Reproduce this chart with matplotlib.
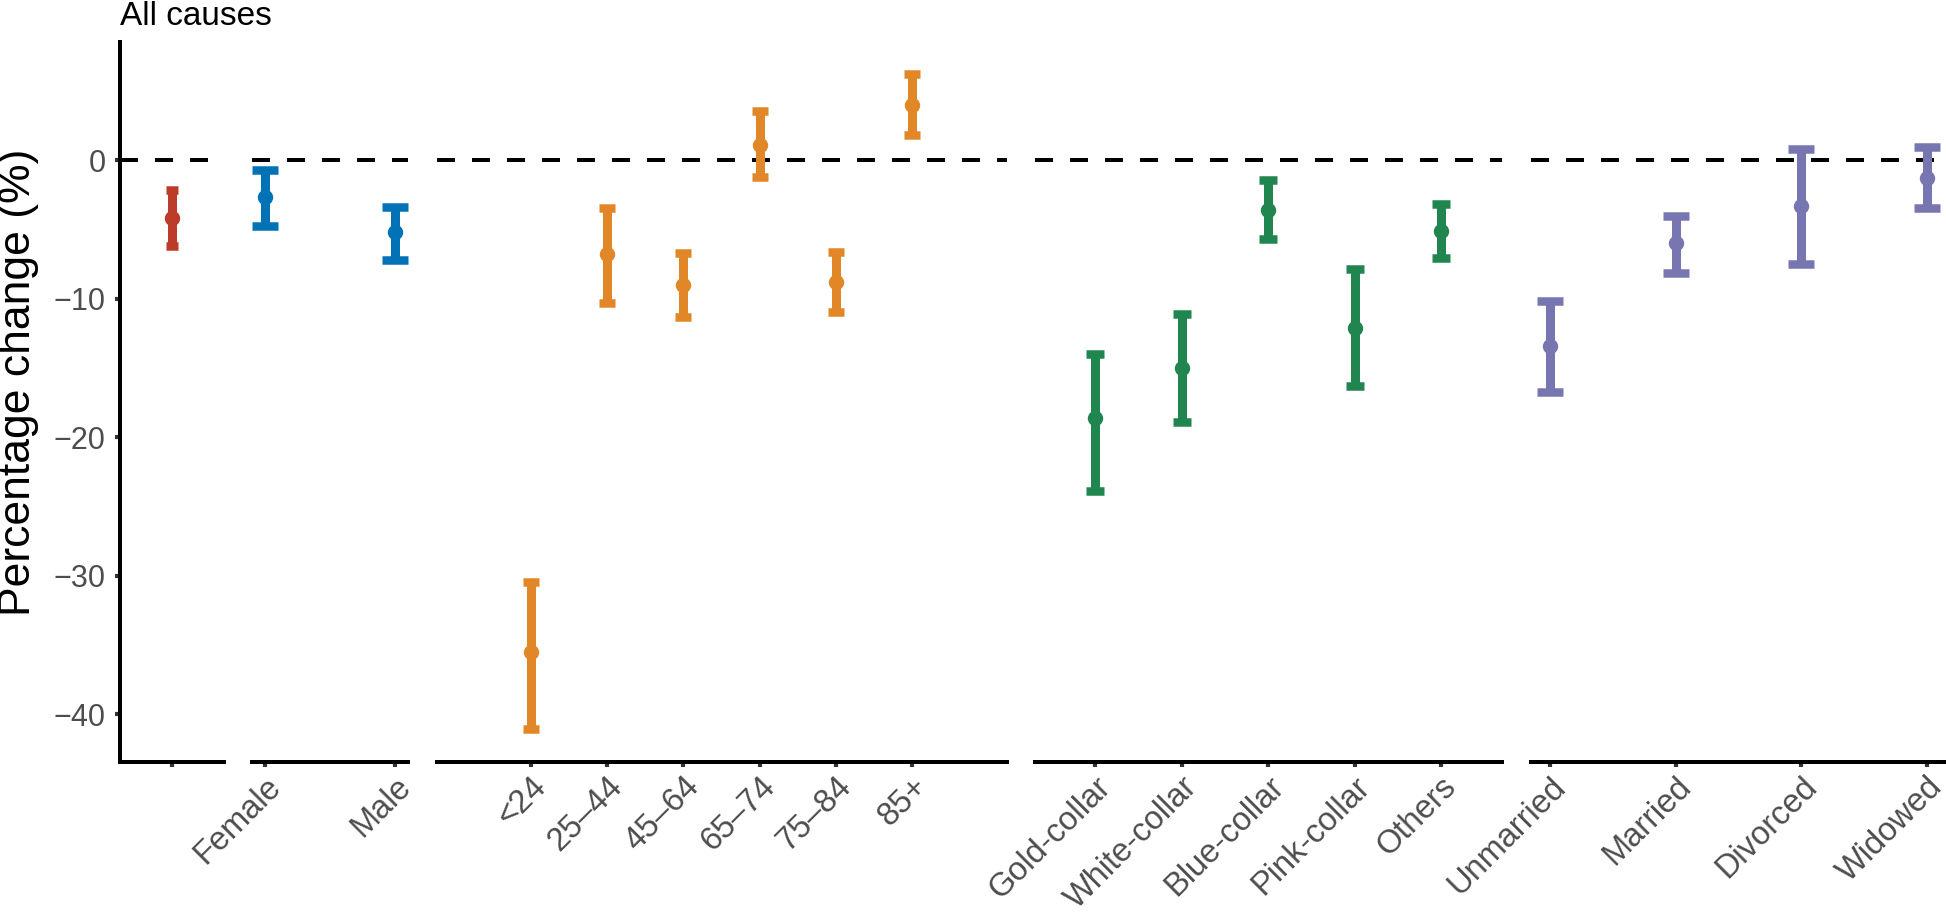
import matplotlib
matplotlib.use("Agg")
import matplotlib.pyplot as plt

plt.rcParams['font.family'] = ['Liberation Sans', 'DejaVu Sans']

# ---- data (percentage change, 95% CI) ----
overall_labels = [""]
overall_est = [-4.2]
overall_lo = [-6.2]
overall_hi = [-2.2]

sex_labels = ["Female", "Male"]
sex_est = [-2.7, -5.2]
sex_lo = [-4.75, -7.25]
sex_hi = [-0.75, -3.4]

age_labels = ["<24", "25–44", "45–64", "65–74", "75–84", "85+"]
age_est = [-35.55, -6.8, -9.05, 1.1, -8.8, 4.0]
age_lo = [-41.05, -10.35, -11.35, -1.25, -11.0, 1.8]
age_hi = [-30.45, -3.45, -6.75, 3.55, -6.65, 6.2]

occ_labels = ["Gold-collar", "White-collar", "Blue-collar", "Pink-collar", "Others"]
occ_est = [-18.65, -15.0, -3.6, -12.1, -5.1]
occ_lo = [-23.9, -18.9, -5.7, -16.35, -7.05]
occ_hi = [-14.0, -11.1, -1.45, -7.85, -3.15]

mar_labels = ["Unmarried", "Married", "Divorced", "Widowed"]
mar_est = [-13.45, -6.0, -3.3, -1.3]
mar_lo = [-16.75, -8.15, -7.5, -3.5]
mar_hi = [-10.15, -4.05, 0.8, 0.95]

colors = ["#BC3C29", "#0072B5", "#E18727", "#20854E", "#7876B1"]

panels = [
    (overall_labels, overall_est, overall_lo, overall_hi),
    (sex_labels, sex_est, sex_lo, sex_hi),
    (age_labels, age_est, age_lo, age_hi),
    (occ_labels, occ_est, occ_lo, occ_hi),
    (mar_labels, mar_est, mar_lo, mar_hi),
]

# ---- layout (pixels) ----
W, H = 1946, 913
dpi = 100
px = 72.0 / dpi  # points per pixel
panel_px = [(120, 224), (252, 408), (437, 1007), (1035, 1502), (1531, 1946)]
xlims = [(-0.6, 0.6), (-0.1, 1.1), (-1.234, 6.247), (-0.694, 4.705), (-0.151, 3.154)]
cap_px = [12, 27, 16, 18, 26]
top_px, bot_px = 42, 762
ylim = (-(bot_px - 160) / 13.85, (160 - top_px) / 13.85)

fig = plt.figure(figsize=(W / dpi, H / dpi), dpi=dpi)

for i, (labels, est, lo, hi) in enumerate(panels):
    x0, x1 = panel_px[i]
    ax = fig.add_axes([x0 / W, 1 - bot_px / H, (x1 - x0) / W, (bot_px - top_px) / H])
    xs = list(range(len(labels)))
    yerr = [[e - l for e, l in zip(est, lo)], [h - e for e, h in zip(est, hi)]]
    ax.axhline(0, color="black", lw=4 * px, linestyle=(0, (18 / 4, 17 / 4)), zorder=1)
    ax.errorbar(xs, est, yerr=yerr, fmt="o", color=colors[i], ms=14 * px,
                elinewidth=9 * px, capsize=cap_px[i] / 2 * px, capthick=8.5 * px, zorder=3)
    ax.set_xlim(*xlims[i])
    ax.set_ylim(*ylim)
    ax.set_xticks(xs)
    ax.set_xticklabels(labels)
    for s in ["top", "right"]:
        ax.spines[s].set_visible(False)
    ax.spines["bottom"].set_linewidth(4 * px)
    ax.tick_params(axis="x", length=3.5, width=3, color="#333333", labelsize=23.5,
                   labelcolor="#4D4D4D", pad=3)
    plt.setp(ax.get_xticklabels(), rotation=45, ha="right", va="top", rotation_mode="anchor")
    if i == 0:
        ax.spines["left"].set_linewidth(4 * px)
        ax.set_yticks([0, -10, -20, -30, -40])
        ax.tick_params(axis="y", length=3.5, width=3, color="#333333", labelsize=22,
                       labelcolor="#4D4D4D", pad=7)
        ax.set_title("All causes", loc="left", fontsize=24, pad=12)
    else:
        ax.spines["left"].set_visible(False)
        ax.set_yticks([])

fig.text(19 / W, 1 - 382 / H, "Percentage change (%)", rotation=90, fontsize=32,
         ha="center", va="center")

fig.savefig("out.png", dpi=dpi)
